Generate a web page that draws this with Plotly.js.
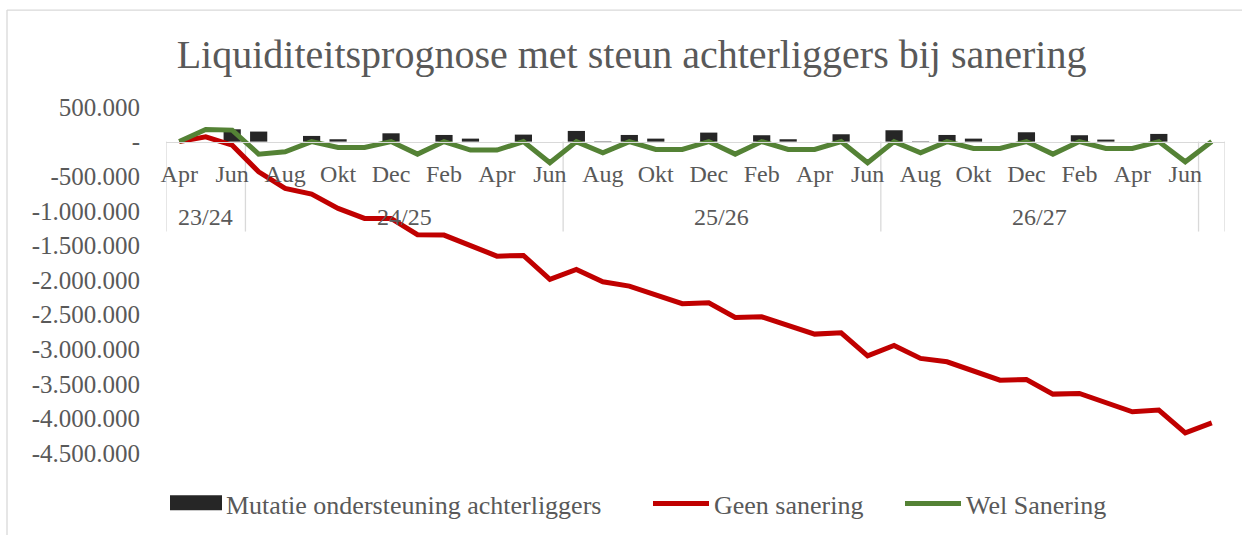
<!DOCTYPE html>
<html>
<head>
<meta charset="utf-8">
<script src="https://cdn.plot.ly/plotly-3.0.1.min.js"></script>
<style>
html,body{margin:0;padding:0;background:#ffffff;}
#chart{width:1242px;height:535px;}
</style>
</head>
<body>
<div id="chart"></div>
<script>
// ---- data ----
const months = [
  'Apr','Mei','Jun',
  'Jul','Aug','Sep','Okt','Nov','Dec','Jan','Feb','Mrt','Apr','Mei','Jun',
  'Jul','Aug','Sep','Okt','Nov','Dec','Jan','Feb','Mrt','Apr','Mei','Jun',
  'Jul','Aug','Sep','Okt','Nov','Dec','Jan','Feb','Mrt','Apr','Mei','Jun',
  'Jul'
];
const fiscalYears = [
  '23/24','23/24','23/24',
  '24/25','24/25','24/25','24/25','24/25','24/25','24/25','24/25','24/25','24/25','24/25','24/25',
  '25/26','25/26','25/26','25/26','25/26','25/26','25/26','25/26','25/26','25/26','25/26','25/26',
  '26/27','26/27','26/27','26/27','26/27','26/27','26/27','26/27','26/27','26/27','26/27','26/27',
  '27/28'
];
const groupLabels = ['23/24','24/25','25/26','26/27'];

const mutatieOndersteuning = [
  0, 0, 178000,
  145000, 0, 82000, 34000, 0, 120000, 0, 96000, 43000, 0, 101000, 0,
  154000, 5000, 96000, 43000, 0, 130000, 0, 92000, 34000, 0, 106000, 0,
  164000, 5000, 96000, 43000, 0, 135000, 0, 92000, 29000, 0, 111000, 0,
  0
];
const geenSanering = [
  0, 69000, -51000,
  -436000, -676000, -759000, -966000, -1110000, -1110000, -1345000, -1351000, -1510000, -1655000, -1645000, -1991000,
  -1847000, -2026000, -2088000, -2218000, -2343000, -2329000, -2541000, -2531000, -2652000, -2782000, -2763000, -3095000,
  -2945000, -3133000, -3182000, -3312000, -3447000, -3437000, -3649000, -3639000, -3775000, -3905000, -3880000, -4208000,
  -4064000
];
const welSanering = [
  0, 176000, 166000,
  -181000, -147000, 0, -84000, -84000, 0, -181000, 0, -123000, -123000, 0, -306000,
  0, -163000, 0, -113000, -113000, 0, -181000, 0, -113000, -113000, 0, -306000,
  0, -163000, 0, -98000, -98000, 0, -181000, 0, -98000, -98000, 0, -292000,
  0
];
const yTickVals = [500000, 0, -500000, -1000000, -1500000, -2000000, -2500000, -3000000, -3500000, -4000000, -4500000];
const yTickText = ['500.000', '-', '-500.000', '-1.000.000', '-1.500.000', '-2.000.000', '-2.500.000', '-3.000.000', '-3.500.000', '-4.000.000', '-4.500.000'];

// ---- derived ----
const categories = months.map((m, i) => fiscalYears[i] + ' ' + m);
const xTickVals = categories.filter((c, i) => i % 2 === 0);
const xTickText = months.filter((m, i) => i % 2 === 0);

const FONT = 'Liberation Serif, Cambria, serif';
const TXT = '#595959';
const GRID = '#d9d9d9';
const BAR = '#262626';

// pixel helpers for paper coordinates (plot area 166..1225 x, 107..453.3 y)
const PL = 166, PW = 1059, PB = 453.3, PH = 346.3;
const px = v => (v - PL) / PW;
const py = v => (PB - v) / PH;

const traces = [
  {
    type: 'bar', name: 'Mutatie ondersteuning achterliggers',
    x: categories, y: mutatieOndersteuning,
    marker: {color: BAR}, legend: 'legend'
  },
  {
    type: 'scatter', mode: 'lines', name: 'Geen sanering',
    x: categories, y: geenSanering,
    line: {color: '#C00000', width: 5}, legend: 'legend2'
  },
  {
    type: 'scatter', mode: 'lines', name: 'Wel Sanering',
    x: categories, y: welSanering,
    line: {color: '#548235', width: 5}, legend: 'legend3'
  }
];

// group separators and group labels
const shapes = [];
const annotations = [];
const firstIdx = {}, lastIdx = {};
fiscalYears.forEach((g, i) => { if (!(g in firstIdx)) firstIdx[g] = i; lastIdx[g] = i; });
const bounds = [];
fiscalYears.forEach((g, i) => { if (i === 0 || fiscalYears[i - 1] !== g) bounds.push(i - 0.5); });
bounds.push(fiscalYears.length - 0.5);
bounds.forEach(b => shapes.push({
  type: 'line', xref: 'x', yref: 'y', x0: b, x1: b, y0: 0, y1: -1300000,
  line: {color: GRID, width: 1.3}, layer: 'below'
}));
groupLabels.forEach(g => annotations.push({
  xref: 'x', yref: 'y', x: (firstIdx[g] + lastIdx[g]) / 2, y: -1090000,
  text: g, showarrow: false, font: {family: FONT, size: 24, color: TXT},
  xanchor: 'center', yanchor: 'middle'
}));
// chart frame
shapes.push({type: 'line', xref: 'paper', yref: 'paper', x0: px(7), x1: px(1260), y0: py(10), y1: py(10), line: {color: GRID, width: 1.3}});
shapes.push({type: 'line', xref: 'paper', yref: 'paper', x0: px(7), x1: px(7), y0: py(10), y1: py(560), line: {color: GRID, width: 1.3}});
// wide legend key for the bar series (as in the original)
shapes.push({type: 'rect', xref: 'paper', yref: 'paper', x0: px(170), x1: px(222), y0: py(510.5), y1: py(495.5),
  fillcolor: BAR, line: {width: 0}, layer: 'above'});

const legendBase = {
  orientation: 'h', xanchor: 'left', y: py(504), yanchor: 'middle',
  font: {family: FONT, size: 26, color: TXT}, bgcolor: 'rgba(0,0,0,0)'
};

const layout = {
  width: 1242, height: 535,
  margin: {l: 166, r: 17, t: 107, b: 82, pad: 0, autoexpand: false},
  paper_bgcolor: '#ffffff', plot_bgcolor: '#ffffff',
  font: {family: FONT, color: TXT, size: 24},
  title: {
    text: 'Liquiditeitsprognose met steun achterliggers bij sanering',
    font: {family: FONT, size: 40, color: TXT},
    xref: 'container', x: 0.5085, xanchor: 'center',
    yref: 'container', y: 1 - 54 / 535, yanchor: 'middle'
  },
  bargap: 0.35,
  showlegend: true,
  legend: Object.assign({}, legendBase, {x: px(166), itemwidth: 50}),
  legend2: Object.assign({}, legendBase, {x: px(648), itemwidth: 56}),
  legend3: Object.assign({}, legendBase, {x: px(900), itemwidth: 56}),
  xaxis: {
    type: 'category', categoryorder: 'array', categoryarray: categories,
    range: [-0.5, categories.length - 0.5],
    anchor: 'free', position: 0.9,
    showline: true, linecolor: GRID, linewidth: 1.3,
    showgrid: false, zeroline: false, ticks: '',
    tickmode: 'array', tickvals: xTickVals, ticktext: xTickText,
    tickangle: 0, ticklabelstandoff: 10,
    tickfont: {family: FONT, size: 24, color: TXT}
  },
  yaxis: {
    range: [-4500000, 500000],
    showline: false, showgrid: false, zeroline: false, ticks: '',
    tickmode: 'array', tickvals: yTickVals, ticktext: yTickText,
    ticklabelstandoff: 25,
    tickfont: {family: FONT, size: 25, color: TXT}
  },
  shapes: shapes,
  annotations: annotations
};

Plotly.newPlot('chart', traces, layout, {displayModeBar: false, staticPlot: true});
</script>
</body>
</html>
